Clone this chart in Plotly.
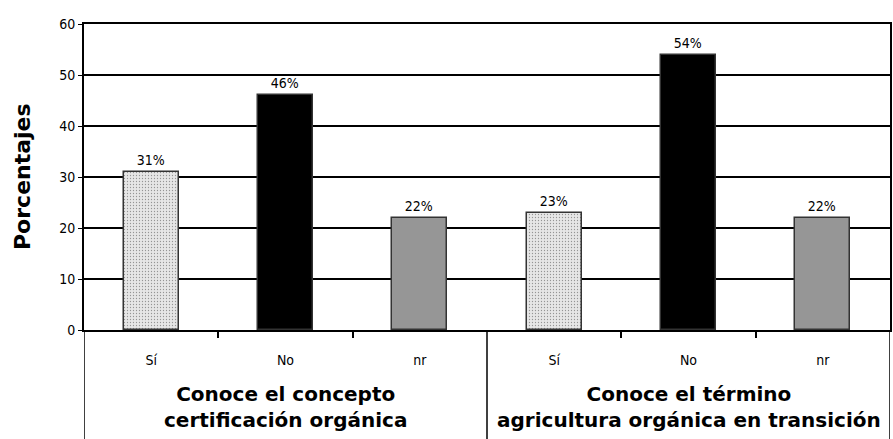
import plotly.graph_objects as go

categories = ["Sí", "No", "nr", "Sí", "No", "nr"]
values = [31, 46, 22, 23, 54, 22]
labels = ["31%", "46%", "22%", "23%", "54%", "22%"]
groups = ["Conoce el concepto<br>certificación orgánica",
          "Conoce el término<br>agricultura orgánica en transición"]
colors = ["#e6e6e6", "#000000", "#969696", "#e6e6e6", "#000000", "#969696"]
yticks = [0, 10, 20, 30, 40, 50, 60]

xpos = list(range(len(categories)))
patterns = ["." if c == "Sí" else "" for c in categories]

small = "DejaVu Sans Condensed, Liberation Sans Narrow, sans-serif"
bold = "DejaVu Sans, sans-serif"

fig = go.Figure()
fig.add_trace(go.Bar(
    x=xpos, y=values, width=0.41,
    marker=dict(color=colors, line=dict(color="#333333", width=1.5),
                pattern=dict(shape=patterns, size=3, solidity=0.15, fgcolor="#b0b0b0")),
    text=labels, textposition="outside", cliponaxis=False,
    textfont=dict(family=small, size=14, color="#000"),
))

fig.update_layout(
    width=893, height=439,
    margin=dict(l=84, r=3, t=24, b=109),
    paper_bgcolor="white", plot_bgcolor="white",
    showlegend=False, bargap=0,
    font=dict(family=small, size=14, color="#000"),
    xaxis=dict(range=[-0.5, 5.5], tickvals=xpos, ticktext=categories,
               automargin=False,
               showgrid=False, zeroline=False, showline=True, linecolor="#000",
               linewidth=2, mirror=True, ticks="", ticklabelstandoff=16,
               tickfont=dict(family=small, size=14),
               minor=dict(tickvals=[0.5, 1.5, 3.5, 4.5], ticks="outside",
                          ticklen=6, tickcolor="#000", tickwidth=1.5, showgrid=False)),
    yaxis=dict(range=[0, 60], tickvals=yticks, showgrid=True, gridcolor="#000",
               automargin=False,
               gridwidth=1.5, zeroline=False, showline=True, linecolor="#000",
               linewidth=2, mirror=True, ticks="outside", ticklen=4,
               tickcolor="#000", tickfont=dict(family=small, size=14)),
)

fig.add_annotation(x=0, y=0.5, xref="paper", yref="paper", xanchor="center",
                   yanchor="middle", xshift=-62, textangle=-90, showarrow=False,
                   text="<b>Porcentajes</b>", font=dict(family=bold, size=22))

# group divider lines extending below the axis
for xb in [-0.5, 2.5, 5.5]:
    fig.add_shape(type="line", xref="x", yref="paper", x0=xb, x1=xb,
                  y0=0, y1=-0.36, line=dict(color="#000", width=1.5))

for i, g in enumerate(groups):
    fig.add_annotation(x=1 + 3 * i, y=-0.165, xref="x", yref="paper",
                       text="<b>" + g + "</b>", showarrow=False, yanchor="top",
                       font=dict(family=bold, size=20),
                       align="center")

fig.write_html("out.html", config={"displayModeBar": False},
               post_script="document.body.style.margin='0';")
